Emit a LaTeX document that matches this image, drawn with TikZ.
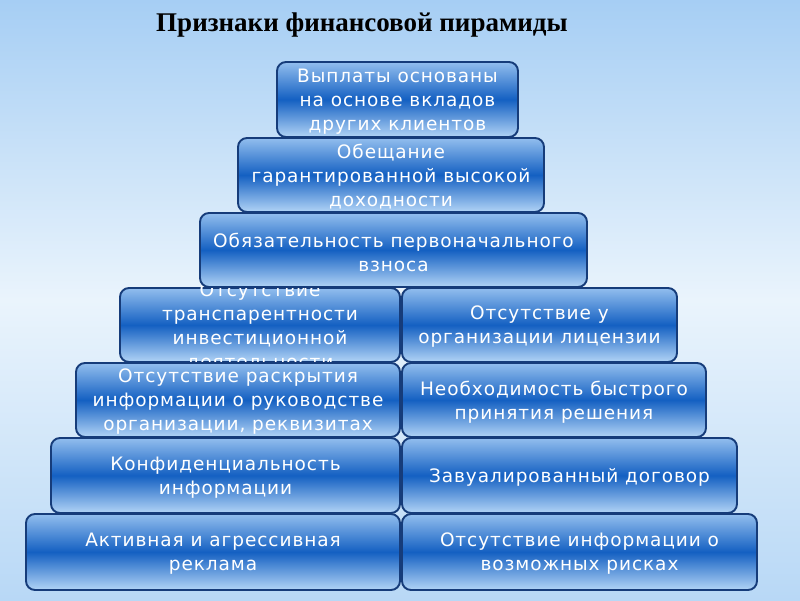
\documentclass[tikz,border=0pt]{standalone}
\usepackage{fontspec}
\setmainfont{Liberation Serif}
\newfontfamily\platefont[LetterSpace=5]{DejaVu Sans}

\begin{document}
\begin{tikzpicture}[x=1pt,y=-1pt,line join=round]
	\definecolor{bgtop}{RGB}{166,206,244}
	\definecolor{bgmid}{RGB}{234,244,252}
	\definecolor{bgbot}{RGB}{184,216,246}
	\definecolor{platetop}{RGB}{146,190,238}
	\definecolor{platemid}{RGB}{20,96,194}
	\definecolor{platebot}{RGB}{178,212,246}
	\definecolor{plateedge}{RGB}{22,60,122}
	\tikzset{
		plate/.style={draw=plateedge, line width=1.9pt, rounded corners=9pt,
			top color=platetop, bottom color=platebot, middle color=platemid, inner sep=0pt},
		platetext/.style={text=white, align=center, yshift=-2pt, font=\platefont\fontsize{18.5}{24}\selectfont}
	}
	% name, x1, y1, x2, y2, text
	\def\plate#1#2#3#4#5#6{
		\node[plate, minimum width={#4-#2}, minimum height={#5-#3}] (#1) at ({(#2+#4)/2},{(#3+#5)/2}) {};
		\node[platetext] (#1t) at (#1.center) {#6};
	}
	
	\useasboundingbox (0,0) rectangle (800,600);
	\shade[top color=bgtop, bottom color=bgbot, middle color=bgmid] (0,0) rectangle (800,600);
	
	\node[font=\bfseries\fontsize{27}{32}\selectfont] (title) at (362,25) {Признаки финансовой пирамиды};
	
	%%%%%%%%%%%%%%%%%%
	\plate{trans}{120}{288}{400}{362}{Отсутствие\\транспарентности\\инвестиционной\\деятельности}
	\plate{licen}{402}{288}{677}{362}{Отсутствие у\\организации лицензии}
	
	\plate{vypl}{277}{62}{518}{137}{Выплаты основаны\\на основе вкладов\\других клиентов}
	\plate{obesh}{238}{138}{544}{212}{Обещание\\гарантированной высокой\\доходности}
	\plate{vznos}{200}{213}{587}{287}{Обязательность первоначального\\взноса}
	
	\plate{raskr}{76}{363}{400}{437}{Отсутствие раскрытия\\информации о руководстве\\организации, реквизитах}
	\plate{bystr}{402}{363}{706}{437}{Необходимость быстрого\\принятия решения}
	\plate{konf}{51}{438}{400}{513}{Конфиденциальность\\информации}
	\plate{dogov}{402}{438}{737}{513}{Завуалированный договор}
	\plate{rekl}{26}{514}{400}{590}{Активная и агрессивная\\реклама}
	\plate{risk}{402}{514}{757}{590}{Отсутствие информации о\\возможных рисках}
\end{tikzpicture}
\end{document}
